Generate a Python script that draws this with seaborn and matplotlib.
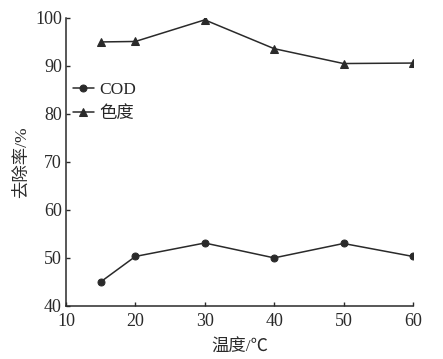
import matplotlib
matplotlib.use("Agg")
import matplotlib.pyplot as plt
import seaborn as sns

# temperature (°C) and removal rates (%)
temperature = [15, 20, 30, 40, 50, 60]
cod_removal = [45.0, 50.3, 53.1, 50.0, 53.0, 50.3]
color_removal = [95.0, 95.1, 99.6, 93.6, 90.5, 90.6]
series_names = ["COD", "色度"]

sns.set_style("ticks")
plt.rcParams["font.family"] = ["Liberation Serif", "Noto Sans CJK SC"]
plt.rcParams["xtick.direction"] = "in"
plt.rcParams["ytick.direction"] = "in"

fig = plt.figure(figsize=(4.43, 3.59), dpi=100)
ax = fig.add_axes([0.149, 0.148, 0.783, 0.802])

sns.lineplot(x=temperature, y=cod_removal, ax=ax, color="#2a2a2a", lw=1.1,
             marker="o", markersize=5, markeredgecolor="#2a2a2a", label=series_names[0])
sns.lineplot(x=temperature, y=color_removal, ax=ax, color="#2a2a2a", lw=1.1,
             marker="^", markersize=6, markeredgecolor="#2a2a2a", label=series_names[1])

ax.set_xlim(10, 60)
ax.set_ylim(40, 100)
ax.set_xticks(range(10, 61, 10))
ax.set_yticks(range(40, 101, 10))
ax.tick_params(labelsize=13, length=3, width=1, colors="#2a2a2a")
ax.tick_params(axis="x", pad=5)
ax.tick_params(axis="y", pad=3)
for s in ["top", "right"]:
    ax.spines[s].set_visible(False)
for s in ["left", "bottom"]:
    ax.spines[s].set_color("#2a2a2a")
    ax.spines[s].set_linewidth(1.1)

ax.set_xlabel("温度/℃", fontsize=12.5, color="#2a2a2a", labelpad=7)
ax.set_ylabel("去除率/%", fontsize=12.5, color="#2a2a2a", labelpad=4)

ax.legend(loc="upper left", bbox_to_anchor=(-0.01, 0.815), frameon=False,
          fontsize=12.5, handlelength=1.2, handletextpad=0.3, labelspacing=0.45,
          borderaxespad=0.2)

fig.savefig("out.png", dpi=100)
